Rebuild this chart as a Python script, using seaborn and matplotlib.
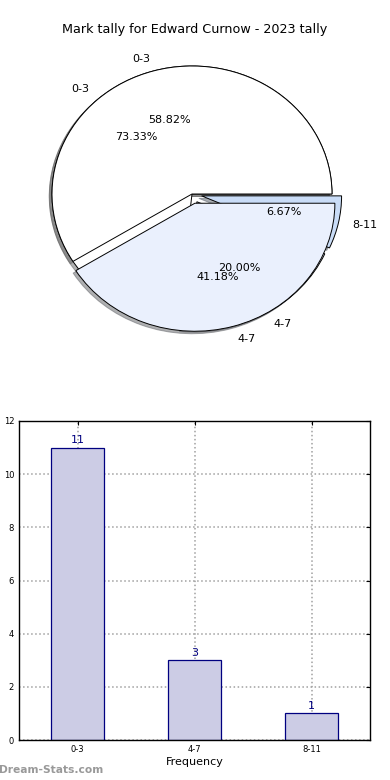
import numpy as np
import pandas as pd
import matplotlib
matplotlib.use("Agg")
import matplotlib.pyplot as plt
import seaborn as sns

# ==========================================
# Data
# ==========================================

title = "Mark tally for Edward Curnow - 2023 tally"

categories = ["0-3", "4-7", "8-11"]
tally = [11, 3, 1]

# earlier tally that is drawn on the same pie
prev_categories = ["0-3", "4-7"]
prev_tally = [10, 7]

pie_colors = ["#ffffff", "#eaf0fd", "#c9dcf7"]
bar_fill = "#ccccE5"
bar_edge = "#000080"

# ==========================================
# Style
# ==========================================

sns.set_style("white")
plt.rcParams["font.family"] = ["DejaVu Sans"]
plt.rcParams["text.color"] = "black"
plt.rcParams["axes.labelcolor"] = "black"
plt.rcParams["xtick.color"] = "black"
plt.rcParams["ytick.color"] = "black"

fig = plt.figure(figsize=(3.9, 7.8), dpi=100)

fig.suptitle(title, y=1 - 30 / 780, va="center", fontsize=9.2)

# ==========================================
# Pie
# ==========================================

ax1 = fig.add_axes([17 / 390, 1 - 354 / 780, 350 / 390, 320 / 780])

wedge_kw = dict(edgecolor="black", linewidth=0.7)
shadow_kw = dict(ox=-0.014, oy=-0.014, shade=0.6)

ax1.pie(tally, labels=categories, autopct="%1.2f%%",
        colors=pie_colors, shadow=shadow_kw,
        explode=[0.0, 0.07, 0.07],
        wedgeprops=wedge_kw,
        textprops=dict(fontsize=8))

ax1.pie(prev_tally, labels=prev_categories, autopct="%1.2f%%",
        colors=pie_colors[:2], shadow=shadow_kw,
        explode=[0.0, 0.075],
        wedgeprops=wedge_kw,
        textprops=dict(fontsize=8))

ax1.set_aspect("auto")
ax1.set_xlim(-1.25, 1.25)
ax1.set_ylim(-1.25, 1.25)
ax1.axis("off")

# ==========================================
# Bars
# ==========================================

ax2 = fig.add_axes([19 / 390, 1 - 740 / 780, 351 / 390, 319 / 780])

df = pd.DataFrame({"Range": categories, "Tally": tally})

sns.barplot(data=df, x="Range", y="Tally", ax=ax2,
            color=bar_fill, saturation=1, width=0.45,
            edgecolor=bar_edge, linewidth=0.9, zorder=2)

for i, v in enumerate(tally):
    ax2.text(i, v + 0.1, str(v), ha="center", va="bottom",
             color=bar_edge, fontsize=8)

ax2.set_xlim(-0.5, 2.5)
ax2.set_ylim(0, 12)
ax2.set_yticks(range(0, 13, 2))

ax2.grid(True, color="#a0a0a0", linestyle=":", linewidth=1.1)
ax2.set_axisbelow(True)

for s in ax2.spines.values():
    s.set_color("black")
    s.set_linewidth(1)

ax2.tick_params(direction="in", top=True, right=True,
                labelsize=6, length=3, color="black")

ax2.set_xlabel("Frequency", fontsize=8, labelpad=2)
ax2.set_ylabel("Student Tally", fontsize=8)

fig.text(-0.003, 1 - 770 / 780, "Dream-Stats.com", color="#999999",
         fontsize=7.7, fontweight="bold", va="center")

fig.savefig("out.png", dpi=100)
